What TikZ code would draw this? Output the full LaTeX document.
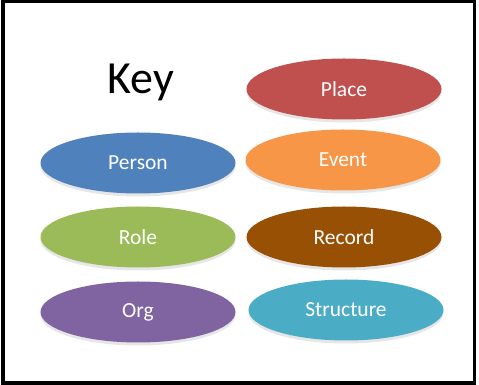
\documentclass[tikz,border=0pt]{standalone}
\usepackage{fontspec}
\setmainfont{Carlito}
\usetikzlibrary{shapes.geometric,shadows}
\definecolor{placered}{RGB}{192,80,77}
\definecolor{personblue}{RGB}{79,129,189}
\definecolor{eventorange}{RGB}{247,150,70}
\definecolor{rolegreen}{RGB}{155,187,89}
\definecolor{recordbrown}{RGB}{152,80,4}
\definecolor{orgpurple}{RGB}{128,100,162}
\definecolor{structcyan}{RGB}{75,172,198}
\begin{document}
\begin{tikzpicture}[x=1pt,y=1pt,
   blob/.style={ellipse,fill=#1,text=white,minimum width=195pt,minimum height=61pt,
     inner sep=0pt,font=\fontsize{21.5}{25}\selectfont,
     drop shadow={opacity=.2,shadow xshift=0pt,shadow yshift=-3pt}}]
   \useasboundingbox (0,0) rectangle (479,385);
   \draw[line width=3.5pt] (3.2,2) rectangle (474.5,383.3);
   \node (key) at (141,303) {\fontsize{46}{50}\selectfont Key};
   \node[blob=placered] (place) at (344,296) {Place};
   \node[blob=personblue] (person) at (138,222) {Person};
   \node[blob=eventorange] (event) at (343,225) {Event};
   \node[blob=rolegreen] (role) at (138,148) {Role};
   \node[blob=recordbrown] (record) at (344,148) {Record};
   \node[blob=orgpurple] (org) at (138,73) {Org};
   \node[blob=structcyan] (structure) at (346,75) {Structure};
\end{tikzpicture}
\end{document}
